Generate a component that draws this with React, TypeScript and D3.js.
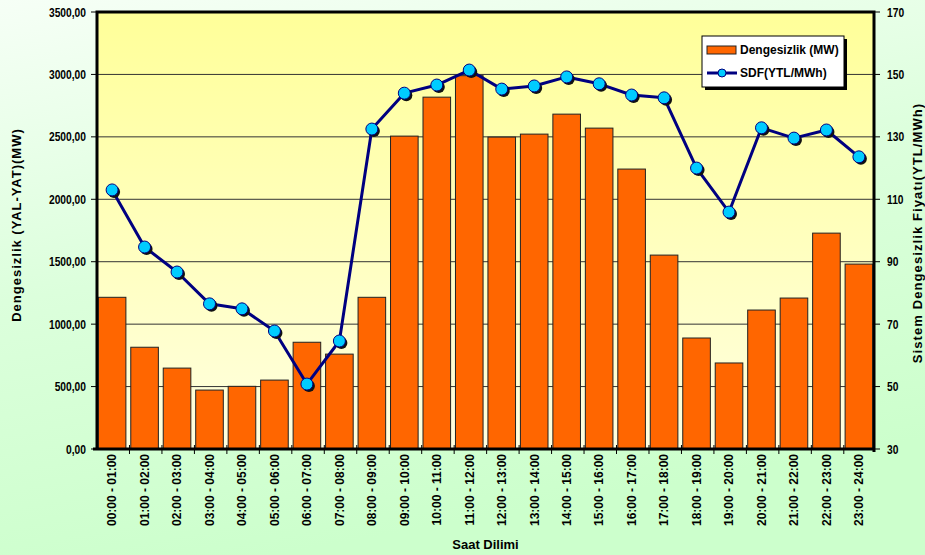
import React from "react";
import * as d3 from "d3";

const hours = [
  "00:00 - 01:00", "01:00 - 02:00", "02:00 - 03:00", "03:00 - 04:00",
  "04:00 - 05:00", "05:00 - 06:00", "06:00 - 07:00", "07:00 - 08:00",
  "08:00 - 09:00", "09:00 - 10:00", "10:00 - 11:00", "11:00 - 12:00",
  "12:00 - 13:00", "13:00 - 14:00", "14:00 - 15:00", "15:00 - 16:00",
  "16:00 - 17:00", "17:00 - 18:00", "18:00 - 19:00", "19:00 - 20:00",
  "20:00 - 21:00", "21:00 - 22:00", "22:00 - 23:00", "23:00 - 24:00",
];

const imbalanceMW = [
  1215, 815, 648, 472, 502, 552, 855, 760, 1215, 2506, 2818, 2990,
  2498, 2522, 2682, 2570, 2242, 1553, 889, 689, 1113, 1209, 1729, 1481,
];

const sdfPrice = [
  113, 94.7, 86.7, 76.5, 74.9, 67.8, 50.8, 64.6, 132.5, 144, 146.6, 151.4,
  145.3, 146.3, 149.2, 147, 143.4, 142.5, 120, 105.9, 132.9, 129.6, 132.2, 123.6,
];

const leftTicks = [0, 500, 1000, 1500, 2000, 2500, 3000, 3500];
const rightTicks = [30, 50, 70, 90, 110, 130, 150, 170];

const W = 925;
const H = 555;
const m = { left: 97, right: 874, top: 12, bottom: 449 };
const font = "'Liberation Sans', Arial, sans-serif";
const fmt = (v: number) => d3.format(".2f")(v).replace(".", ",");

export default function App() {
  const x = d3.scaleBand<string>().domain(hours).range([m.left, m.right]).paddingInner(0.15).paddingOuter(0.04);
  const yL = d3.scaleLinear().domain([0, 3500]).range([m.bottom, m.top]);
  const yR = d3.scaleLinear().domain([30, 170]).range([m.bottom, m.top]);
  const step = x.step();
  const cx = (i: number) => (x(hours[i]) as number) + x.bandwidth() / 2;

  const line = d3.line<number>()
    .x((_, i) => cx(i))
    .y((d) => yR(d));

  return (
    <svg width={W} height={H} style={{ position: "absolute", left: 0, top: 0 }} fontFamily={font}>
      <defs>
        <linearGradient id="bg" x1="0" y1="0" x2="0.3" y2="1">
          <stop offset="0" stopColor="#f6fff6" />
          <stop offset="0.5" stopColor="#dcffdc" />
          <stop offset="1" stopColor="#ccffcc" />
        </linearGradient>
        <linearGradient id="plot" x1="0" y1="0" x2="0" y2="1">
          <stop offset="0" stopColor="#ffff99" />
          <stop offset="1" stopColor="#ffffe0" />
        </linearGradient>
      </defs>
      <rect x={0} y={0} width={W} height={H} fill="url(#bg)" />
      <rect x={m.left} y={m.top} width={m.right - m.left} height={m.bottom - m.top} fill="url(#plot)" />

      {/* grid lines */}
      {leftTicks.slice(1, -1).map((t) => (
        <line key={t} x1={m.left} x2={m.right} y1={yL(t)} y2={yL(t)} stroke="#333" strokeWidth={1} />
      ))}

      {/* bars */}
      {imbalanceMW.map((v, i) => (
        <rect
          key={i}
          x={x(hours[i])}
          y={yL(v)}
          width={x.bandwidth()}
          height={m.bottom - yL(v)}
          fill="#ff6600"
          stroke="#222"
          strokeWidth={1}
        />
      ))}

      {/* frame */}
      <path
        d={`M${m.left},${m.bottom} V${m.top} H${m.right} V${m.bottom + 3}`}
        fill="none"
        stroke="#000"
        strokeWidth={3}
      />
      <line x1={m.left - 4} x2={m.right + 1} y1={m.bottom} y2={m.bottom} stroke="#000" strokeWidth={3} />

      {/* left ticks */}
      {leftTicks.map((t) => (
        <g key={t}>
          <line x1={m.left - 6} x2={m.left} y1={yL(t)} y2={yL(t)} stroke="#000" strokeWidth={1} />
          <text
            transform={`translate(${m.left - 11},${yL(t)}) scale(0.82,1)`}
            dy="0.36em"
            textAnchor="end"
            fontSize={12.5}
            fontWeight="bold"
          >
            {fmt(t)}
          </text>
        </g>
      ))}

      {/* right ticks */}
      {rightTicks.map((t) => (
        <g key={t}>
          <line x1={m.right} x2={m.right + 6} y1={yR(t)} y2={yR(t)} stroke="#000" strokeWidth={1} />
          <text
            transform={`translate(${m.right + 13},${yR(t)}) scale(0.82,1)`}
            dy="0.36em"
            textAnchor="start"
            fontSize={12.5}
            fontWeight="bold"
          >
            {t}
          </text>
        </g>
      ))}

      {/* bottom ticks */}
      {hours.map((h, i) => {
        const bx = m.left + i * step;
        return i === 0 ? null : (
          <line key={h} x1={bx} x2={bx} y1={m.bottom - 4} y2={m.bottom + 5} stroke="#000" strokeWidth={1} />
        );
      })}

      {/* x labels */}
      {hours.map((h, i) => (
        <text
          key={h}
          transform={`translate(${cx(i)},${m.bottom + 5}) rotate(-90)`}
          dy="0.36em"
          textAnchor="end"
          fontSize={12}
          fontWeight="bold"
        >
          {h}
        </text>
      ))}

      {/* SDF line */}
      <path d={line(sdfPrice) || ""} fill="none" stroke="#000080" strokeWidth={3} strokeLinejoin="round" />
      {sdfPrice.map((v, i) => (
        <circle key={"s" + i} cx={cx(i) + 2} cy={yR(v) + 2} r={6} fill="#111" />
      ))}
      {sdfPrice.map((v, i) => (
        <circle key={"c" + i} cx={cx(i)} cy={yR(v)} r={6} fill="#00ccff" stroke="#000080" strokeWidth={1} />
      ))}

      {/* axis titles */}
      <text
        transform="translate(21,225) rotate(-90)"
        textAnchor="middle"
        fontSize={13}
        fontWeight="bold"
        letterSpacing={1}
      >
        Dengesizlik (YAL-YAT)(MW)
      </text>
      <text
        transform="translate(922,233) rotate(-90)"
        textAnchor="middle"
        fontSize={13}
        fontWeight="bold"
        letterSpacing={1.1}
      >
        Sistem Dengesizlik Fiyatı(YTL/MWh)
      </text>
      <text x={(m.left + m.right) / 2} y={549} textAnchor="middle" fontSize={13} fontWeight="bold">
        Saat Dilimi
      </text>

      {/* legend */}
      <g transform="translate(702,36)">
        <rect x={3} y={3} width={142} height={51} fill="#000" />
        <rect x={0} y={0} width={142} height={51} fill="#fff" stroke="#000" strokeWidth={1} />
        <rect x={5} y={10} width={29} height={8} fill="#ff6600" stroke="#222" strokeWidth={1} />
        <text x={38} y={14} dy="0.35em" fontSize={12} fontWeight="bold">
          Dengesizlik (MW)
        </text>
        <line x1={5} x2={35} y1={37} y2={37} stroke="#000080" strokeWidth={3} />
        <circle cx={20} cy={37} r={4} fill="#00ccff" stroke="#000080" strokeWidth={1} />
        <text x={38} y={37} dy="0.35em" fontSize={12} fontWeight="bold">
          SDF(YTL/MWh)
        </text>
      </g>
    </svg>
  );
}
